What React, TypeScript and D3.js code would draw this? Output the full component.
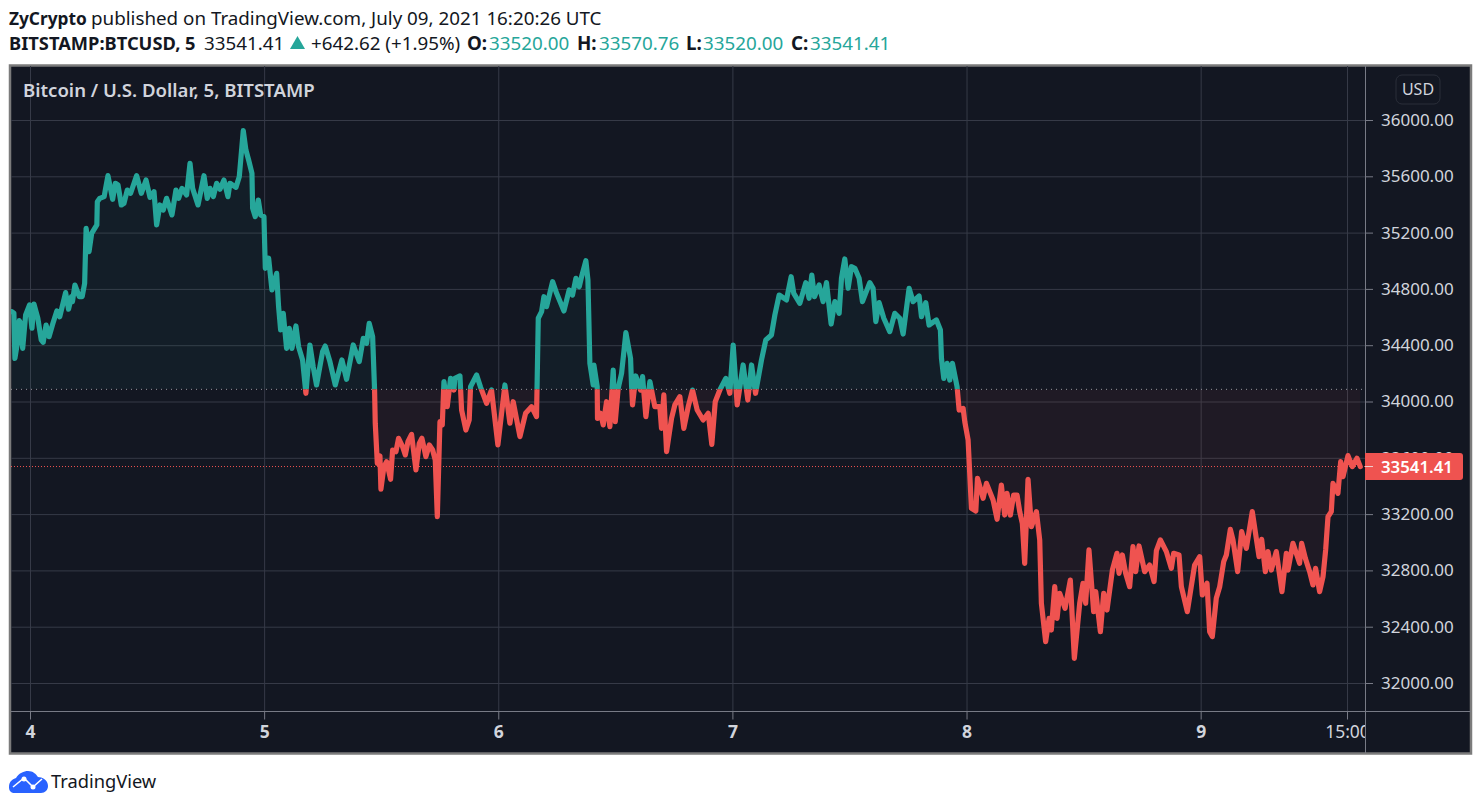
import React, { useEffect, useRef } from 'react'
import * as d3 from 'd3'

// hours since Jul 4 00:00 UTC
const times = [
  -1.9, -1.7, -1.6, -1.35, -1.15, -1.0, -0.8, -0.5, -0.1, 0.15, 0.35, 0.75, 1.1, 1.3, 1.6, 1.9, 2.3, 2.7, 3.0, 3.6,
  3.9, 4.2, 4.3, 4.55, 5.0, 5.3, 5.55, 5.7, 6.0, 6.27, 6.8, 6.85, 7.1, 7.55, 7.67, 7.94, 8.42, 8.7, 8.97, 9.31,
  9.58, 9.92, 10.26, 10.88, 11.36, 11.84, 12.25, 12.66, 12.93, 13.27, 13.61, 13.95, 14.5, 14.91, 15.18, 15.53, 16.0, 16.35, 16.62, 17.17,
  17.78, 18.12, 18.4, 18.74, 19.08, 19.42, 19.83, 20.24, 20.44, 21.06, 21.4, 21.81, 22.08, 22.36, 22.7, 22.77, 23.04, 23.35, 23.59, 23.93,
  24.07, 24.41, 24.75, 25.23, 25.43, 25.64, 25.91, 26.25, 26.53, 26.8, 27.21, 27.48, 27.89, 28.23, 28.64, 28.98, 29.32, 29.94, 30.21, 30.69,
  31.24, 31.92, 32.4, 33.08, 33.7, 34.11, 34.45, 34.72, 35.07, 35.27,
  35.34, 35.55, 35.82, 35.92, 36.23, 36.5, 36.91, 37.12, 37.46, 37.73, 38.14, 38.42, 38.69, 39.06, 39.51, 39.85, 40.12, 40.53, 40.88, 41.22,
  41.49, 41.7, 41.97, 42.21, 42.38, 42.72, 43.06, 43.4, 43.5, 44.02, 44.19, 44.63, 44.97, 45.11, 45.73, 46.14, 46.75, 47.26, 47.91, 48.63,
  49.14, 49.48, 50.17, 50.75, 51.36, 51.87, 52.05, 52.39, 52.63, 52.9, 53.52, 53.93, 54.68, 55.22, 55.56, 55.91, 56.25, 56.49, 56.93, 57.14,
  57.34, 57.68, 57.75, 58.09, 58.12, 58.43, 58.71, 59.05, 59.39, 59.73, 59.94, 60.24, 60.59, 61.03, 61.51, 61.61, 61.71, 62.05, 62.53, 62.74,
  63.08, 63.49, 64.0, 64.51, 64.68, 64.92, 65.2, 65.71, 66.05, 66.56, 66.97, 67.42, 67.86, 68.34, 68.95, 69.47, 69.84, 70.19, 70.66,
  71.27, 71.68, 72.03, 72.44, 73.05, 73.53, 73.91, 74.32, 74.93, 75.37, 75.95, 76.3, 76.74, 77.49, 77.97, 78.24, 78.86, 79.47, 79.81, 80.09,
  80.36, 80.84, 81.25, 81.59, 82.07, 82.45, 82.89, 83.13, 83.47, 83.81, 84.15, 84.5, 84.94, 85.28, 86.03, 86.37, 86.65, 86.99, 87.47, 88.08,
  88.59, 89.11, 89.45, 90.06, 90.47, 91.09, 91.33, 91.77, 92.11, 92.86, 93.27, 93.38, 93.62, 93.96, 94.23, 94.5, 94.98, 95.19, 95.6, 95.77,
  96.11, 96.45, 96.9, 97.07, 97.65, 97.99, 98.67, 99.08,
  99.52, 99.86, 100.1, 100.44, 100.78, 101.13, 101.4, 101.67, 101.91, 102.25, 102.6, 103.11, 103.45, 103.62, 104.06, 104.41, 104.64, 104.99, 105.23, 105.5,
  106.05, 106.59, 107.0, 107.55, 107.89, 108.16, 108.5, 108.98, 109.19, 109.67, 110.01, 110.35, 110.9, 111.37, 111.58, 111.92, 112.26, 112.67, 113.01, 113.29,
  113.63, 114.21, 114.72, 115.17, 115.41, 115.82, 116.43, 116.94, 117.18, 117.73, 117.97, 118.58, 119.33, 119.85, 120.12, 120.6, 120.87, 121.14, 121.55, 121.9, 122.31, 122.58,
  122.99, 123.26, 123.74, 124.15, 124.63, 125.24, 125.93, 126.2, 126.58, 126.85, 127.19, 127.7, 128.28, 128.73, 128.9, 129.41, 130.09, 130.3, 130.68, 131.12,
  131.46, 131.73, 132.14, 132.49, 132.76, 133.0, 133.34, 133.51, 134.02, 134.3, 134.54, 135.05, 135.49, 135.97, 136.31,
]

const prices = [
  34642, 34630, 34310, 34417, 34578, 34559, 34381, 34618, 34689, 34524, 34696, 34595, 34441, 34424, 34547, 34464, 34559, 34647, 34606, 34777,
  34659, 34749, 34713, 34831, 34749, 34749, 34843, 35234, 35068, 35198, 35258, 35423, 35447, 35459, 35506, 35608, 35440, 35554, 35542, 35400,
  35412, 35506, 35483, 35608, 35483, 35577, 35454, 35494, 35258, 35400, 35364, 35447, 35329, 35506, 35447, 35518, 35471, 35696, 35518, 35400,
  35608, 35447, 35518, 35459, 35554, 35511, 35577, 35459, 35554, 35525, 35601, 35928, 35790, 35719, 35625, 35376, 35317, 35435, 35329, 35317,
  34950, 35021, 34796, 34914, 34678, 34512, 34630, 34381, 34524, 34381, 34540, 34393, 34299, 34062, 34405, 34251, 34121, 34358, 34398, 34287,
  34121, 34299, 34161, 34405, 34287, 34452, 34417, 34559, 34464, 34085,
  33849, 33564, 33617, 33380, 33541, 33576, 33451, 33659, 33647, 33742, 33683, 33624, 33718, 33770, 33517, 33706, 33742, 33612, 33695, 33659,
  33588, 33185, 33860, 33837, 34145, 33967, 34168, 34085, 34168, 34185, 33943, 33801, 33872, 34109, 34192, 34104, 33991, 34085, 33695, 34121,
  33849, 34002, 33754, 33920, 33967, 33896, 34595, 34642, 34748, 34677, 34855, 34772, 34647, 34796, 34760, 34879, 34819, 34890, 35004, 34867,
  34275, 34121, 34263, 34109, 33884, 33920, 33837, 34002, 33825, 34227, 33860, 34097, 34204, 34493, 34310, 34121, 33979, 34185, 34085, 34180,
  33896, 34145, 33967, 33967, 33813, 34050, 33647, 33884, 33979, 34038, 33813, 33967, 34085, 33943, 33872, 33920, 33699, 34002, 34085,
  34168, 34062, 34405, 33979, 34263, 34014, 34263, 34062, 34298, 34441, 34476, 34618, 34760, 34725, 34890, 34772, 34701, 34848, 34737, 34902,
  34748, 34831, 34713, 34848, 34554, 34713, 34630, 34879, 35016, 34808, 34961, 34950, 34879, 34713, 34848, 34808, 34571, 34706, 34595, 34500,
  34630, 34595, 34483, 34808, 34713, 34753, 34606, 34706, 34547, 34583, 34512, 34310, 34168, 34275, 34156, 34275, 34109, 33943, 33955, 33860,
  33730, 33245, 33226, 33458, 33316, 33422, 33304, 33167,
  33410, 33197, 33351, 33197, 33339, 33339, 33221, 33138, 32854, 33451, 33114, 33221, 33020, 32570, 32297, 32463, 32380, 32688, 32463, 32641,
  32534, 32735, 32179, 32570, 32712, 32570, 32949, 32510, 32653, 32368, 32641, 32522, 32806, 32925, 32783, 32913, 32783, 32688, 32972, 32795,
  32977, 32795, 32842, 32724, 32944, 33020, 32937, 32818, 32925, 32913, 32688, 32510, 32842, 32901, 32629, 32712, 32368, 32333, 32605, 32688, 32866, 32913,
  33095, 33020, 32795, 33079, 32960, 33221, 32901, 33024, 32795, 32937, 32806, 32937, 32653, 32925, 32806, 32996, 32854, 32996, 32889, 32795,
  32700, 32818, 32653, 32759, 32949, 33185, 33221, 33422, 33351, 33576, 33469, 33619, 33541, 33600, 33541,
]

const priceTicks = [32000, 32400, 32800, 33200, 33600, 34000, 34400, 34800, 35200, 35600, 36000]
const timeTicks = [0, 24, 48, 72, 96, 120, 135]
const timeLabels = ['4', '5', '6', '7', '8', '9', '15:00']
const baseValue = 34090
const lastPrice = 33541.41

const FONT = '"Noto Sans", "Open Sans", sans-serif'
const TEAL = '#26a69a'
const RED = '#ef5350'
const GRID = '#363a47'
const LABEL = '#d1d4dc'
const BG = '#131722'

const App: React.FC = () => {
  const axisRef = useRef<SVGGElement>(null)
  const timeRef = useRef<SVGGElement>(null)

  const x = d3.scaleLinear().domain([0, 135]).range([30.5, 1347.5])
  const y = d3.scaleLinear().domain([32000, 36000]).range([683.5, 120.5])
  const idx = d3.range(times.length)

  const line = d3
    .line<number>()
    .x((i) => x(times[i]))
    .y((i) => y(prices[i]))
    .curve(d3.curveLinear)
  const area = d3
    .area<number>()
    .x((i) => x(times[i]))
    .y0(y(baseValue))
    .y1((i) => y(prices[i]))

  useEffect(() => {
    const priceAxis = d3
      .axisRight(y)
      .tickValues(priceTicks)
      .tickSize(8)
      .tickPadding(8)
      .tickFormat((d) => d3.format('.2f')(d as number))
      .offset(0)
    d3.select(axisRef.current!)
      .call(priceAxis as any)
      .call((g) => g.select('.domain').remove())
      .call((g) => g.selectAll('.tick line').attr('stroke', '#787b86'))
      .call((g) =>
        g
          .selectAll('.tick text')
          .attr('fill', LABEL)
          .style('font', `400 17px ${FONT}`),
      )

    const timeAxis = d3
      .axisBottom(x)
      .tickValues(timeTicks)
      .tickSize(8)
      .tickPadding(6)
      .tickFormat((_, i) => timeLabels[i])
      .offset(0)
    d3.select(timeRef.current!)
      .call(timeAxis as any)
      .call((g) => g.select('.domain').remove())
      .call((g) => g.selectAll('.tick line').attr('stroke', '#787b86'))
      .call((g) =>
        g
          .selectAll('.tick text')
          .attr('fill', LABEL)
          .style('font', (_, i) => `${i < 6 ? 700 : 400} 17.5px ${FONT}`),
      )
  }, [])

  return (
    <svg
      width={1481}
      height={809}
      style={{ position: 'absolute', left: 0, top: 0, background: '#fff', fontFamily: FONT }}
    >
      <defs>
        <clipPath id="plot">
          <rect x={11} y={66} width={1354} height={645} />
        </clipPath>
        <clipPath id="above">
          <rect x={11} y={66} width={1354} height={y(baseValue) - 66} />
        </clipPath>
        <clipPath id="below">
          <rect x={11} y={y(baseValue)} width={1354} height={711 - y(baseValue)} />
        </clipPath>
        <clipPath id="timeClip">
          <rect x={11} y={700} width={1354} height={53} />
        </clipPath>
      </defs>

      {/* header */}
      <g fontSize={18.8} fill={BG}>
        <text x={9} y={25} fontWeight={700} fontSize={17.3}>ZyCrypto</text>
        <text x={91} y={25}>published on TradingView.com, July 09, 2021 16:20:26 UTC</text>
        <text x={9} y={49.5} fontWeight={700} fontSize={18.3}>BITSTAMP:BTCUSD, 5</text>
        <text x={204} y={49.5}>33541.41</text>
        <path d="M290,49 L297.5,36 L305,49 Z" fill={TEAL} />
        <text x={311} y={49.5}>+642.62 (+1.95%)</text>
        <text x={467} y={49.5} fontWeight={700}>O:</text>
        <text x={489} y={49.5} fill={TEAL}>33520.00</text>
        <text x={577} y={49.5} fontWeight={700}>H:</text>
        <text x={599} y={49.5} fill={TEAL}>33570.76</text>
        <text x={686} y={49.5} fontWeight={700}>L:</text>
        <text x={703} y={49.5} fill={TEAL}>33520.00</text>
        <text x={791} y={49.5} fontWeight={700}>C:</text>
        <text x={810} y={49.5} fill={TEAL}>33541.41</text>
      </g>

      {/* panel */}
      <rect x={10} y={65.5} width={1461} height={688} fill={BG} stroke="#7b7b7b" strokeWidth={2.5} />

      {/* grid */}
      <g stroke={GRID} strokeWidth={1}>
        {priceTicks.map((d) => (
          <line key={d} x1={11} x2={1365} y1={y(d)} y2={y(d)} />
        ))}
        {timeTicks.map((d) => (
          <line key={d} x1={x(d)} x2={x(d)} y1={66} y2={711} />
        ))}
      </g>

      {/* baseline series */}
      <g clipPath="url(#plot)">
        <path d={area(idx)!} fill="rgba(38,166,154,0.055)" clipPath="url(#above)" />
        <path d={area(idx)!} fill="rgba(239,83,80,0.06)" clipPath="url(#below)" />
        <line x1={11} x2={1365} y1={y(baseValue)} y2={y(baseValue)} stroke="#9598a1" strokeWidth={1} strokeDasharray="1 4" />
        <line x1={11} x2={1365} y1={y(lastPrice)} y2={y(lastPrice)} stroke={RED} strokeWidth={1} strokeDasharray="1 2" />
        <g clipPath="url(#above)">
          <path d={line(idx)!} fill="none" stroke={TEAL} strokeWidth={5.2} strokeLinejoin="round" strokeLinecap="round" />
        </g>
        <g clipPath="url(#below)">
          <path d={line(idx)!} fill="none" stroke={RED} strokeWidth={5.2} strokeLinejoin="round" strokeLinecap="round" />
        </g>
      </g>

      <text x={23} y={97} fontSize={18.6} fontWeight={600} fill={LABEL}>Bitcoin / U.S. Dollar, 5, BITSTAMP</text>

      {/* axes */}
      <line x1={1365.5} x2={1365.5} y1={66} y2={753} stroke="#787b86" />
      <line x1={11} x2={1471} y1={711.5} y2={711.5} stroke="#787b86" />
      <g ref={axisRef} transform="translate(1365,0)" />
      <g clipPath="url(#timeClip)">
        <g ref={timeRef} transform="translate(0,711.5)" />
      </g>

      <rect x={1396} y={75} width={44} height={29} rx={6} fill={BG} stroke="#2a2e39" />
      <text x={1418} y={95} textAnchor="middle" fontSize={16} fill={LABEL}>USD</text>

      <path d="M1365,453 H1460 a3,3 0 0 1 3,3 V477 a3,3 0 0 1 -3,3 H1365 Z" fill={RED} />
      <line x1={1365} x2={1373} y1={y(lastPrice)} y2={y(lastPrice)} stroke="#f0d0d0" />
      <text x={1381} y={472.5} fontSize={16.8} fontWeight={600} fill="#fff">{lastPrice.toFixed(2)}</text>

      {/* logo */}
      <path
        d="M9,787 C9,781 13,779 16,778 C19,773 24,771 28,771 C33,771 36,774 38,777 C42,777 48,780 48,786 C48,790 45,793 41,793 H15 C11,793 9,791 9,787 Z"
        fill="#2962ff"
      />
      <path d="M13,787 L24,778 L33,787 L42,779" fill="none" stroke="#fff" strokeWidth={1.6} />
      <circle cx={24} cy={779} r={2.5} fill="#fff" />
      <circle cx={33} cy={787} r={2.5} fill="#fff" />
      <text x={51} y={788} fontSize={18.3} fill={BG}>TradingView</text>
    </svg>
  )
}

export default App
